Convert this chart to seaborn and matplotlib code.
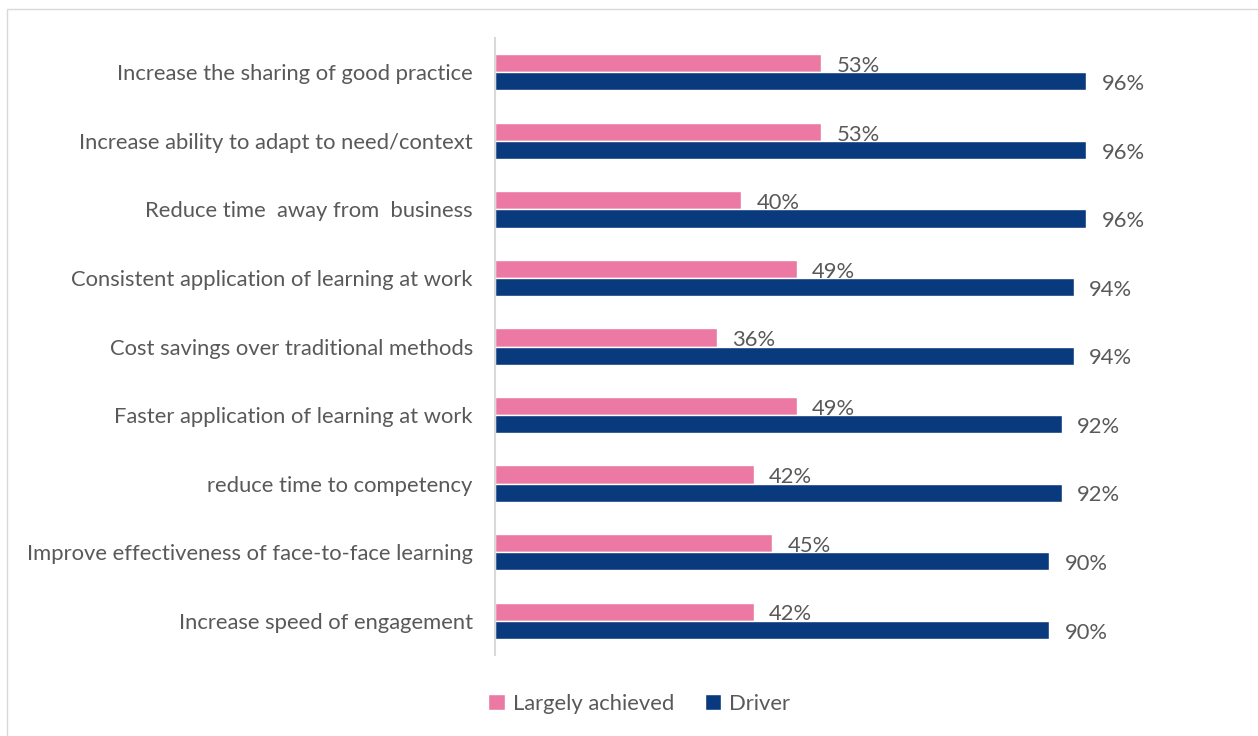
import matplotlib
matplotlib.use("Agg")
import matplotlib.pyplot as plt
from matplotlib.patches import Rectangle, Patch
import seaborn as sns
import pandas as pd

# Chart data
categories = [
    "Increase the sharing of good practice",
    "Increase ability to adapt to need/context",
    "Reduce time  away from  business",
    "Consistent application of learning at work",
    "Cost savings over traditional methods",
    "Faster application of learning at work",
    "reduce time to competency",
    "Improve effectiveness of face-to-face learning",
    "Increase speed of engagement",
]
largely_achieved = [53, 53, 40, 49, 36, 49, 42, 45, 42]
driver = [96, 96, 96, 94, 94, 92, 92, 90, 90]
series_names = ["Largely achieved", "Driver"]

colors = {"Largely achieved": "#EC79A4", "Driver": "#0A3A7E"}
text_color = "#595959"
fs = 15.8

df = pd.DataFrame({
    "Category": categories * 2,
    "Value": largely_achieved + driver,
    "Series": [series_names[0]] * len(categories) + [series_names[1]] * len(categories),
})

sns.set_style("white")
plt.rcParams["font.family"] = ["Lato", "DejaVu Sans"]

fig = plt.figure(figsize=(12.58, 7.36), dpi=100)
ax = fig.add_axes([495 / 1258, 1 - 655 / 736, 616 / 1258, 617 / 736])

sns.barplot(data=df, y="Category", x="Value", hue="Series", orient="h",
            palette=colors, width=0.53, saturation=1, ax=ax, legend=False)

for container in ax.containers:
    labels = ax.bar_label(container, labels=[f"{v:.0f}%" for v in container.datavalues],
                          padding=11, fontsize=fs, color=text_color)
    # Excel-style labels sit a touch lower than the bar centre
    for t in labels:
        x, y = t.xyann
        t.xyann = (x, y - 2)

ax.set_xlim(0, 100)
ax.set_ylim(len(categories) - 0.5, -0.5)
ax.set_xlabel("")
ax.set_ylabel("")
ax.set_xticks([])
ax.tick_params(axis="y", length=0, pad=16, labelsize=fs, labelcolor=text_color)
for side in ["top", "right", "bottom"]:
    ax.spines[side].set_visible(False)
ax.spines["left"].set_color("#D9D9D9")
ax.spines["left"].set_linewidth(1.5)

handles = [Patch(facecolor=colors[s], label=s) for s in series_names]
fig.legend(handles=handles, loc="center", bbox_to_anchor=(0.508, 1 - 704 / 736),
           ncol=2, frameon=False, fontsize=fs, labelcolor=text_color,
           handlelength=0.75, handleheight=0.75, handletextpad=0.35, columnspacing=1.4)

# chart frame
fig.patches.append(Rectangle((7 / 1258, -0.05), 1.2, 1.05 - 9 / 736,
                             transform=fig.transFigure, fill=False,
                             edgecolor="#D9D9D9", linewidth=1))

fig.savefig("out.png", dpi=100)
